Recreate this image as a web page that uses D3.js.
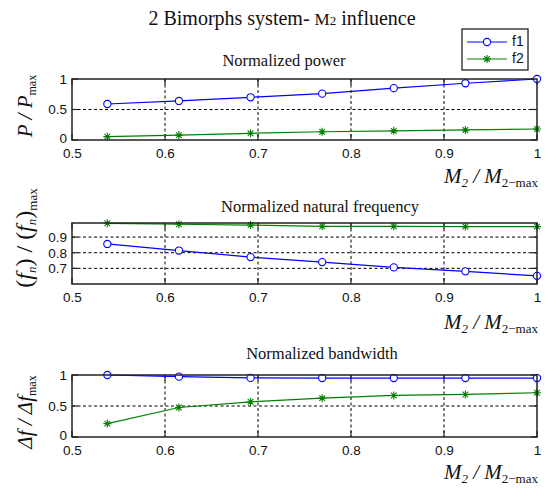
<!DOCTYPE html>
<html>
<head>
<meta charset="utf-8">
<script src="https://cdn.jsdelivr.net/npm/d3@7"></script>
<style>
  body { margin: 0; background: #fff; }
  .tick text { font-family: "Liberation Sans", Arial, sans-serif; font-size: 13.5px; fill: #111; }
  .serif { font-family: "Liberation Serif", "Times New Roman", serif; fill: #111; }
</style>
</head>
<body>
<div id="chart"></div>
<script>
// mass ratio M2 / M2-max (7/13 ... 13/13)
const massRatio = [0.538, 0.615, 0.692, 0.769, 0.846, 0.923, 1.0];

const powerF1 = [0.59, 0.64, 0.70, 0.76, 0.85, 0.93, 1.0];
const powerF2 = [0.055, 0.08, 0.11, 0.135, 0.15, 0.165, 0.18];

const freqF1 = [0.856, 0.814, 0.772, 0.74, 0.706, 0.681, 0.652];
const freqF2 = [0.988, 0.982, 0.977, 0.969, 0.969, 0.967, 0.967];

const bandF1 = [1.0, 0.973, 0.953, 0.951, 0.951, 0.951, 0.951];
const bandF2 = [0.216, 0.476, 0.568, 0.627, 0.67, 0.686, 0.714];

const xTicks = [0.5, 0.6, 0.7, 0.8, 0.9, 1];
const seriesNames = ['f1', 'f2'];
const seriesColors = ['#0000ff', '#008000'];

const width = 550;
const height = 496;
const left = 72;
const right = 537;

const svg = d3.select('#chart').append('svg').attr('width', width).attr('height', height);

const xScale = d3.scaleLinear().domain([0.5, 1]).range([left, right]);
const fmt = d3.format('~g');

// MATLAB-like '*' marker
const starPath = r => {
  const d = r * 0.7071;
  return `M${-r},0L${r},0M0,${-r}L0,${r}M${-d},${-d}L${d},${d}M${-d},${d}L${d},${-d}`;
};

const drawMarker = (g, kind, color, x, y) => {
  if (kind === 'o') {
    g.append('circle').attr('cx', x).attr('cy', y).attr('r', 3.6)
      .attr('fill', '#fff').attr('stroke', color).attr('stroke-width', 1.1);
  } else {
    g.append('path').attr('transform', `translate(${x},${y})`).attr('d', starPath(4))
      .attr('stroke', color).attr('stroke-width', 1.1).attr('fill', 'none');
  }
};

const panels = [
  {
    top: 79, bottom: 140, domain: [0, 1], yTicks: [0, 0.5, 1],
    title: 'Normalized power', titleX: 284, titleY: 62,
    xlabelY: 177, ylabelY: 106, ylabelSize: 21,
    ylabel: t => {
      t.append('tspan').text('P / P');
      t.append('tspan').attr('font-size', 12).attr('font-style', 'normal').attr('dy', 4).text('max');
    },
    series: [powerF1, powerF2],
  },
  {
    top: 223, bottom: 284, domain: [0.6, 0.99], yTicks: [0.7, 0.8, 0.9],
    title: 'Normalized natural frequency', titleX: 320, titleY: 208,
    xlabelY: 323, ylabelY: 238, ylabelSize: 24,
    ylabel: t => {
      t.append('tspan').attr('font-style', 'normal').text('(');
      t.append('tspan').text('f');
      t.append('tspan').attr('font-size', 13).attr('dy', 4).text('n');
      t.append('tspan').attr('font-style', 'normal').attr('dy', -4).text(') / (');
      t.append('tspan').text('f');
      t.append('tspan').attr('font-size', 13).attr('dy', 4).text('n');
      t.append('tspan').attr('font-style', 'normal').attr('dy', -4).text(')');
      t.append('tspan').attr('font-size', 13).attr('font-style', 'normal').attr('dy', 5).text('max');
    },
    series: [freqF1, freqF2],
  },
  {
    top: 375, bottom: 437, domain: [0, 1], yTicks: [0, 0.5, 1],
    title: 'Normalized bandwidth', titleX: 322, titleY: 355,
    xlabelY: 473, ylabelY: 412, ylabelSize: 21,
    ylabel: t => {
      t.append('tspan').text('Δf / Δf');
      t.append('tspan').attr('font-size', 12).attr('font-style', 'normal').attr('dy', 4).text('max');
    },
    series: [bandF1, bandF2],
  },
];

const markers = ['o', '*'];

panels.forEach(p => {
  const yScale = d3.scaleLinear().domain(p.domain).range([p.bottom, p.top]);
  const g = svg.append('g');

  // dashed grid at inner ticks
  const grid = g.append('g').attr('stroke', '#000').attr('stroke-width', 1).attr('stroke-dasharray', '3,2.5');
  xTicks.filter(v => v > 0.5 && v < 1).forEach(v => {
    grid.append('line').attr('x1', xScale(v)).attr('x2', xScale(v)).attr('y1', p.top).attr('y2', p.bottom);
  });
  p.yTicks.filter(v => v > p.domain[0] && v < p.domain[1]).forEach(v => {
    grid.append('line').attr('x1', left).attr('x2', right).attr('y1', yScale(v)).attr('y2', yScale(v));
  });

  // inward tick marks on all four sides
  const ticks = g.append('g').attr('stroke', '#222').attr('stroke-width', 1.2);
  xTicks.forEach(v => {
    ticks.append('line').attr('x1', xScale(v)).attr('x2', xScale(v)).attr('y1', p.bottom).attr('y2', p.bottom - 6);
    ticks.append('line').attr('x1', xScale(v)).attr('x2', xScale(v)).attr('y1', p.top).attr('y2', p.top + 6);
  });
  p.yTicks.forEach(v => {
    ticks.append('line').attr('x1', left).attr('x2', left + 6).attr('y1', yScale(v)).attr('y2', yScale(v));
    ticks.append('line').attr('x1', right).attr('x2', right - 6).attr('y1', yScale(v)).attr('y2', yScale(v));
  });

  // tick labels through d3 axes
  g.append('g').attr('transform', `translate(0,${p.bottom})`)
    .call(d3.axisBottom(xScale).tickValues(xTicks).tickFormat(fmt).tickSize(0).tickPadding(8))
    .call(a => a.select('.domain').remove());
  g.append('g').attr('transform', `translate(${left},0)`)
    .call(d3.axisLeft(yScale).tickValues(p.yTicks).tickFormat(fmt).tickSize(0).tickPadding(5))
    .call(a => a.select('.domain').remove())
    .call(a => a.selectAll('.tick text').filter(d => d === 0).attr('dy', '0.2em'));

  // series
  p.series.forEach((vals, i) => {
    const pts = massRatio.map((m, k) => [xScale(m), yScale(vals[k])]);
    g.append('path').attr('d', d3.line()(pts)).attr('fill', 'none')
      .attr('stroke', seriesColors[i]).attr('stroke-width', 1.2);
    pts.forEach(([x, y]) => drawMarker(g, markers[i], seriesColors[i], x, y));
  });

  // axes box
  g.append('rect').attr('x', left).attr('y', p.top).attr('width', right - left).attr('height', p.bottom - p.top)
    .attr('fill', 'none').attr('stroke', '#222').attr('stroke-width', 1.5);

  // subplot title
  g.append('text').attr('class', 'serif').attr('x', p.titleX).attr('y', p.titleY)
    .attr('text-anchor', 'middle').attr('dominant-baseline', 'middle').attr('font-size', 16.5).text(p.title);

  // x label
  const xl = g.append('text').attr('class', 'serif').attr('x', right + 1).attr('y', p.xlabelY + 6)
    .attr('text-anchor', 'end').attr('font-size', 21).attr('font-style', 'italic');
  xl.append('tspan').text('M');
  xl.append('tspan').attr('font-size', 13).attr('dy', 4).text('2');
  xl.append('tspan').attr('dy', -4).text(' / M');
  xl.append('tspan').attr('font-size', 13).attr('dy', 4).attr('font-style', 'normal').text('2−max');

  // y label
  const yl = g.append('text').attr('class', 'serif')
    .attr('transform', `translate(32,${p.ylabelY}) rotate(-90)`)
    .attr('text-anchor', 'middle').attr('font-size', p.ylabelSize).attr('font-style', 'italic');
  p.ylabel(yl);
});

// main title
const title = svg.append('text').attr('class', 'serif').attr('x', 282).attr('y', 25)
  .attr('text-anchor', 'middle').attr('font-size', 20);
title.append('tspan').text('2 Bimorphs system- ');
title.append('tspan').attr('font-size', 17).text('M');
title.append('tspan').attr('font-size', 13).text('2');
title.append('tspan').text(' influence');

// legend
const legend = svg.append('g');
legend.append('rect').attr('x', 462).attr('y', 29).attr('width', 66).attr('height', 41)
  .attr('fill', '#fff').attr('stroke', '#222').attr('stroke-width', 1.3);
seriesNames.forEach((name, i) => {
  const y = 42 + i * 17;
  legend.append('line').attr('x1', 467).attr('x2', 507).attr('y1', y).attr('y2', y)
    .attr('stroke', seriesColors[i]).attr('stroke-width', 1.2);
  drawMarker(legend, markers[i], seriesColors[i], 487, y);
  legend.append('text').attr('x', 512).attr('y', y).attr('dominant-baseline', 'middle')
    .attr('font-family', '"Liberation Sans", Arial, sans-serif').attr('font-size', 14).attr('fill', '#111').text(name);
});
</script>
</body>
</html>
